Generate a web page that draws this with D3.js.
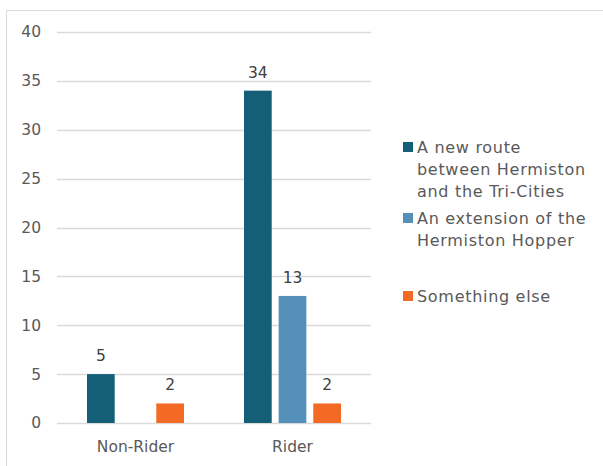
<!DOCTYPE html>
<html><head><meta charset="utf-8">
<script src="https://cdn.jsdelivr.net/npm/d3@7/dist/d3.min.js"></script>
<style>body{margin:0;background:#fff}svg{display:block}</style>
</head><body><svg id="c" width="603" height="466"></svg>
<script>
const categories = ["Non-Rider", "Rider"];
const seriesNames = ["A new route between Hermiston and the Tri-Cities", "An extension of the Hermiston Hopper", "Something else"];
const newRoute = [5, 34];
const extension = [null, 13];
const somethingElse = [2, 2];
const yTicks = [0, 5, 10, 15, 20, 25, 30, 35, 40];
const legendLines = [["A new route", "between Hermiston", "and the Tri-Cities"], ["An extension of the", "Hermiston Hopper"], ["Something else"]];

const colors = ["#155e78", "#5590bb", "#f26a24"];
const font = "'Century Gothic', 'DejaVu Sans', sans-serif";
const txt = "#595959";
const svg = d3.select("#c");

svg.append("rect").attr("x", 6.5).attr("y", 10.5).attr("width", 700).attr("height", 600)
  .attr("fill", "none").attr("stroke", "#d9d9d9");

const x0 = d3.scaleBand().domain(categories).range([57, 371]).paddingInner(0).paddingOuter(0);
const x1 = d3.scaleBand().domain([0, 1, 2]).range([30, 127]).paddingInner(0.2);
const y = d3.scaleLinear().domain([0, 40]).range([423, 32]);

const g = svg.append("g");
g.selectAll("line.grid").data(yTicks).join("line").attr("class", "grid")
  .attr("x1", 57).attr("x2", 371)
  .attr("y1", d => Math.round(y(d)) + 0.5).attr("y2", d => Math.round(y(d)) + 0.5)
  .attr("stroke", "#d9d9d9").attr("stroke-width", 1.3);

g.selectAll("text.yt").data(yTicks).join("text").attr("class", "yt")
  .attr("x", 41).attr("y", d => y(d)).attr("dy", "0.35em")
  .attr("text-anchor", "end").attr("fill", txt).attr("font-family", font).attr("font-size", 15.5)
  .text(d => d);

const series = [newRoute, extension, somethingElse];
const bars = [];
categories.forEach((c, i) => series.forEach((s, j) => {
  if (s[i] != null) bars.push({c, j, v: s[i]});
}));

g.selectAll("rect.bar").data(bars).join("rect").attr("class", "bar")
  .attr("x", d => x0(d.c) + x1(d.j))
  .attr("width", x1.bandwidth())
  .attr("y", d => y(d.v)).attr("height", d => y(0) - y(d.v))
  .attr("fill", d => colors[d.j]);

g.selectAll("text.val").data(bars).join("text").attr("class", "val")
  .attr("x", d => x0(d.c) + x1(d.j) + x1.bandwidth() / 2)
  .attr("y", d => y(d.v) - 13)
  .attr("text-anchor", "middle").attr("fill", "#404040").attr("font-family", font).attr("font-size", 15.5)
  .text(d => d.v);

g.selectAll("text.cat").data(categories).join("text").attr("class", "cat")
  .attr("x", d => x0(d) + x0.bandwidth() / 2).attr("y", 447).attr("dy", "0.35em")
  .attr("text-anchor", "middle").attr("fill", txt).attr("font-family", font).attr("font-size", 15.5)
  .text(d => d);

const legendY = [147, 218, 296];
const lg = svg.append("g");
legendLines.forEach((lines, i) => {
  lg.append("rect").attr("x", 403).attr("y", legendY[i] - 5).attr("width", 10).attr("height", 10).attr("fill", colors[i]);
  const t = lg.append("text").attr("x", 417).attr("y", legendY[i])
    .attr("fill", txt).attr("font-family", font).attr("font-size", 16).attr("letter-spacing", 0.7);
  lines.forEach((l, k) => t.append("tspan").attr("x", 417).attr("dy", k === 0 ? "0.35em" : 22).text(l));
});
</script></body></html>
